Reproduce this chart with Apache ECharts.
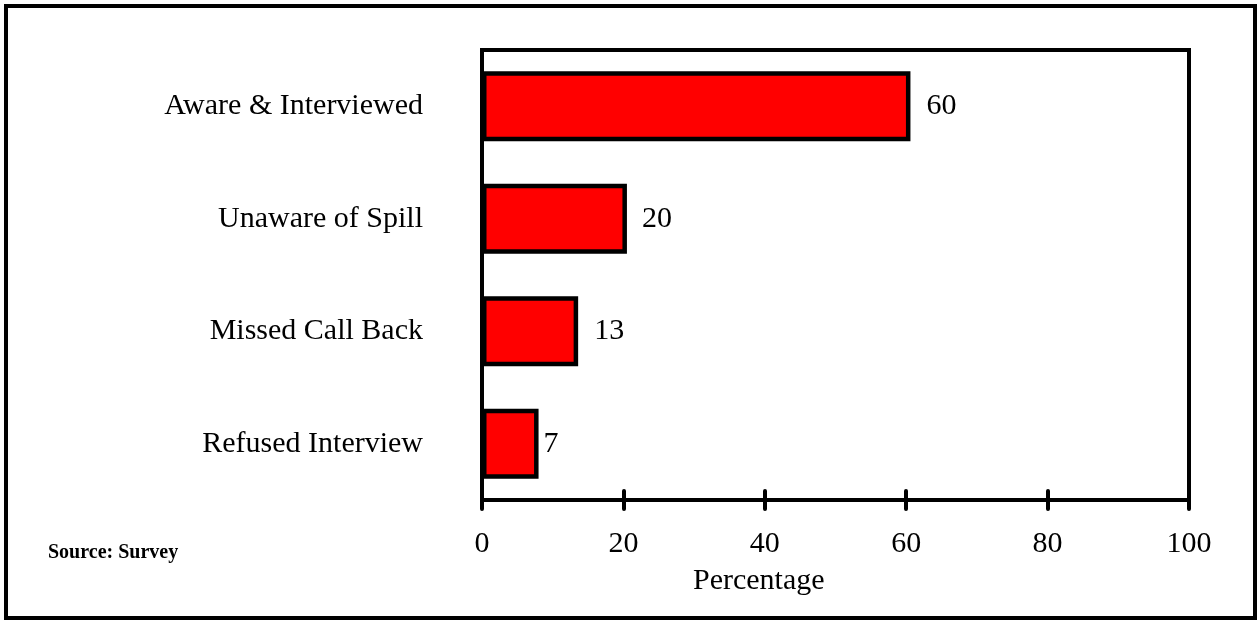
<!DOCTYPE html>
<html>
<head>
<meta charset="utf-8">
<script src="https://cdn.jsdelivr.net/npm/echarts@6/dist/echarts.min.js"></script>
<style>
  body { margin: 0; background: #fff; }
</style>
</head>
<body>
<div id="main" style="width:1258px;height:620px"></div>
<script>
// data
const categories = ['Aware & Interviewed', 'Unaware of Spill', 'Missed Call Back', 'Refused Interview']
const values = [60.6, 20.5, 13.6, 8.0]
const valueLabels = ['60', '20', '13', '7']
const xMin = 0
const xMax = 100
const xStep = 20

const serif = 'Liberation Serif'
// the last label sits close to its bar in the original
const labelGaps = [16, 15, 16, 5]

const tickLine = { color: '#000', width: 4, cap: 'round' }

var chart = echarts.init(document.getElementById('main'))
chart.setOption({
  animation: false,
  textStyle: { fontFamily: serif, color: '#000' },
  title: [
    {
      text: 'Percentage',
      left: 688,
      top: 561,
      textStyle: { fontFamily: serif, fontSize: 30, fontWeight: 'normal', color: '#000' }
    },
    {
      text: 'Source: Survey',
      left: 43,
      top: 538,
      textStyle: { fontFamily: serif, fontSize: 20, fontWeight: 'bold', color: '#000' }
    }
  ],
  graphic: [{
    type: 'rect',
    shape: { x: 6, y: 6, width: 1249, height: 612 },
    style: { fill: 'none', stroke: '#000', lineWidth: 4 },
    silent: true
  }],
  grid: {
    left: 482,
    right: 69,
    top: 50,
    bottom: 120,
    show: true,
    borderColor: '#000',
    borderWidth: 4
  },
  xAxis: [
    {
      type: 'value',
      min: xMin,
      max: xMax,
      interval: xStep,
      axisLine: { show: true, lineStyle: { color: '#000', width: 4 } },
      axisTick: { show: true, length: 9, lineStyle: tickLine },
      axisLabel: { margin: 29, fontSize: 30, color: '#000', fontFamily: serif },
      splitLine: { show: false }
    },
    {
      // second copy only for the ticks that cross into the plot
      type: 'value',
      position: 'bottom',
      min: xMin,
      max: xMax,
      interval: xStep,
      axisLine: { show: false },
      axisTick: { show: true, inside: true, length: 9, lineStyle: tickLine },
      axisLabel: { show: false },
      splitLine: { show: false }
    }
  ],
  yAxis: {
    type: 'category',
    data: categories,
    inverse: true,
    axisLine: { show: true, lineStyle: { color: '#000', width: 4 } },
    axisTick: { show: false },
    axisLabel: { margin: 59, fontSize: 30, color: '#000', fontFamily: serif }
  },
  series: [{
    type: 'bar',
    xAxisIndex: 0,
    barWidth: 70,
    data: values.map(function (v, i) {
      return { value: v, label: { distance: labelGaps[i] } }
    }),
    itemStyle: { color: '#ff0000', borderColor: '#000', borderWidth: 4.5 },
    label: {
      show: true,
      position: 'right',
      fontSize: 30,
      color: '#000',
      fontFamily: serif,
      formatter: function (p) { return valueLabels[p.dataIndex] }
    }
  }]
})
</script>
</body>
</html>
